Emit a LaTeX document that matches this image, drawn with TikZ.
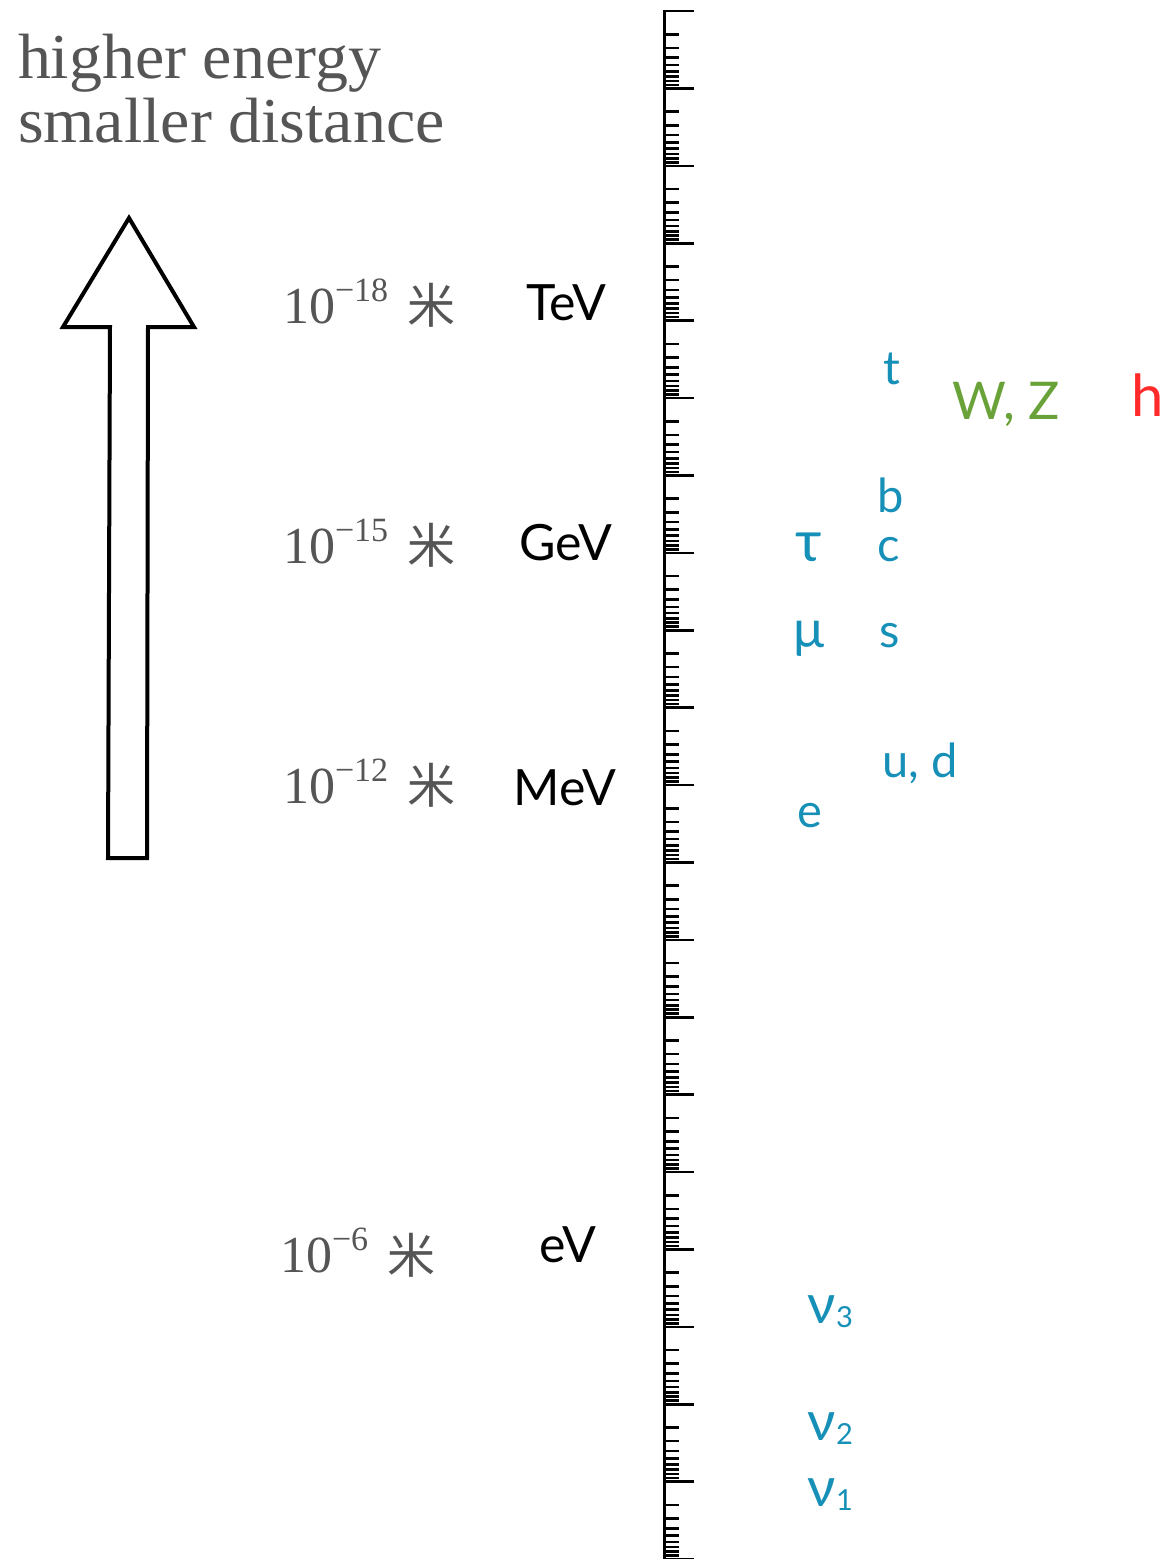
\documentclass[tikz,border=0pt]{standalone}
\usepackage{fontspec}
\setmainfont{Liberation Serif}
\newfontfamily\headfont[FakeStretch=1.03]{Liberation Serif}
\newfontfamily\gillfont{Lato}
\newfontfamily\cjk{Noto Sans CJK SC}
\definecolor{textgray}{HTML}{555555}
\definecolor{leptonblue}{HTML}{1790B8}
\definecolor{bosongreen}{HTML}{6AA23A}
\definecolor{higgsred}{HTML}{FF2A2A}

\newcommand{\expo}[1]{\raisebox{0.42em}{\fontsize{34}{34}\selectfont #1}}
\newcommand{\nusub}[1]{{\fontsize{55}{55}\selectfont ν}\kern1pt\raisebox{-4pt}{\fontsize{29}{29}\selectfont #1}}

\begin{document}
\begin{tikzpicture}[x=1pt,y=-1pt,
  every node/.style={inner sep=0pt, outer sep=0pt},
  headline/.style={anchor=base west, text=textgray, font=\headfont\fontsize{64}{64}\selectfont},
  scalelabel/.style={anchor=base west, text=textgray, font=\fontsize{52}{52}\selectfont},
  meter/.style={text=textgray, font=\cjk\fontsize{48}{48}\selectfont},
  unit/.style={anchor=base, text=black, font=\gillfont\fontsize{50}{50}\selectfont},
  fermion/.style={anchor=base, text=leptonblue, font=\gillfont\fontsize{47}{47}\selectfont},
  neutrino/.style={anchor=base west, text=leptonblue, font=\gillfont\fontsize{47}{47}\selectfont},
  boson/.style={anchor=base, text=bosongreen, font=\gillfont\fontsize{52}{52}\selectfont},
  higgs/.style={anchor=base, text=higgsred, font=\gillfont\fontsize{58}{58}\selectfont},
  axisline/.style={line width=3pt},
  majortick/.style={line width=2.6pt},
  minortick/.style={line width=2.6pt},
  bigarrow/.style={line width=4pt, line join=miter, fill=white}
]
\useasboundingbox (0,0) rectangle (1170,1559);

% heading
\node[headline] (head1) at (18,78) {higher energy};
\node[headline] (head2) at (18,142) {smaller distance};

% upward arrow
\draw[bigarrow] (129,218) -- (194,327) -- (148,327) -- (147,858)
  -- (108,858) -- (110,327) -- (63,327) -- cycle;

% length scale
\node[scalelabel] (len18) at (283,323) {10\expo{−18}};
\node[meter] (m18) at (431,305) {米};
\node[scalelabel] (len15) at (283,563) {10\expo{−15}};
\node[meter] (m15) at (431,545) {米};
\node[scalelabel] (len12) at (283,803) {10\expo{−12}};
\node[meter] (m12) at (431,785) {米};
\node[scalelabel] (len6) at (280,1272) {10\expo{−6}};
\node[meter] (m6) at (411,1255) {米};

% energy units
\node[unit] (tev) at (566,320) {TeV};
\node[unit] (gev) at (566,560) {GeV};
\node[unit] (mev) at (565,805) {MeV};
\node[unit] (ev) at (568,1262) {eV};

% logarithmic axis
\draw[axisline] (664,10) -- (664,1559);
\foreach \i in {0,...,20}
  \draw[majortick] (664,{11+77.4*\i}) -- (694,{11+77.4*\i});
\foreach \i in {0,...,19}
  \foreach \k in {2,...,9}
    \draw[minortick] (664,{11+77.4*(\i+log10(\k))}) -- (679,{11+77.4*(\i+log10(\k))});

% particles
\node[fermion] (top) at (892,384) {t};
\node[boson] (wz) at (1006,419) {W, Z};
\node[higgs] (higgs) at (1148,416) {h};
\node[fermion] (bottom) at (891,512) {b};
\node[fermion, font=\gillfont\fontsize{57}{57}\selectfont] (tau) at (809,561) {τ};
\node[fermion] (charm) at (889,561) {c};
\node[fermion, font=\gillfont\fontsize{52}{52}\selectfont] (muon) at (809,647) {μ};
\node[fermion] (strange) at (890,647) {s};
\node[fermion] (updown) at (920,777) {u, d};
\node[fermion] (electron) at (810,827) {e};
\node[neutrino] (nu3) at (807,1323) {\nusub{3}};
\node[neutrino] (nu2) at (807,1440) {\nusub{2}};
\node[neutrino] (nu1) at (807,1506) {\nusub{1}};
\end{tikzpicture}
\end{document}
